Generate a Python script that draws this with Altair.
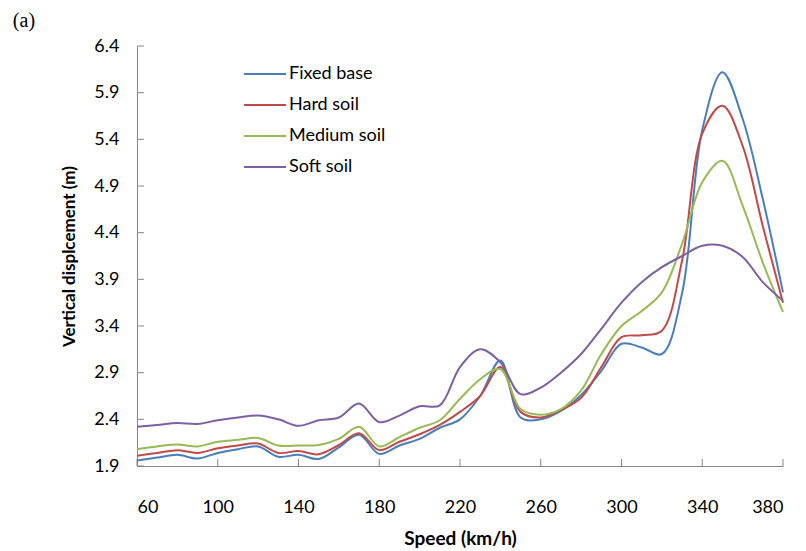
import altair as alt
import pandas as pd

speed = list(range(60, 390, 10))

fixed_base = [1.96, 1.99, 2.02, 1.98, 2.04, 2.08, 2.11, 2.00, 2.02, 1.975, 2.10, 2.235, 2.03, 2.12,
              2.19, 2.31, 2.40, 2.65, 3.03, 2.42, 2.40, 2.49, 2.66, 2.92, 3.21, 3.17, 3.10, 3.75,
              5.50, 6.12, 5.62, 4.76, 3.76]
hard_soil = [2.01, 2.04, 2.07, 2.04, 2.09, 2.12, 2.14, 2.04, 2.06, 2.025, 2.125, 2.25, 2.07, 2.16,
             2.24, 2.34, 2.48, 2.65, 2.96, 2.48, 2.42, 2.50, 2.63, 2.96, 3.28, 3.30, 3.35, 4.10,
             5.46, 5.76, 5.33, 4.47, 3.65]
medium_soil = [2.08, 2.11, 2.13, 2.11, 2.16, 2.18, 2.20, 2.12, 2.12, 2.125, 2.19, 2.32, 2.11, 2.21,
               2.31, 2.39, 2.62, 2.83, 2.94, 2.51, 2.45, 2.51, 2.71, 3.10, 3.40, 3.56, 3.76, 4.28,
               4.94, 5.17, 4.69, 4.08, 3.55]
soft_soil = [2.32, 2.34, 2.36, 2.35, 2.39, 2.42, 2.44, 2.40, 2.33, 2.39, 2.42, 2.57, 2.37, 2.44,
             2.54, 2.55, 2.96, 3.15, 3.01, 2.67, 2.74, 2.90, 3.10, 3.37, 3.65, 3.87, 4.03, 4.15,
             4.26, 4.26, 4.14, 3.87, 3.67]

series_names = ["Fixed base", "Hard soil", "Medium soil", "Soft soil"]
series_colors = ["#4A7EBB", "#BE4B48", "#98B954", "#7D60A0"]
x_ticks = [60, 100, 140, 180, 220, 260, 300, 340, 380]
y_ticks = [1.9, 2.4, 2.9, 3.4, 3.9, 4.4, 4.9, 5.4, 5.9, 6.4]

rows = []
for name, vals in zip(series_names, [fixed_base, hard_soil, medium_soil, soft_soil]):
    for s, v in zip(speed, vals):
        rows.append({"speed": s, "disp": v, "series": name})
df = pd.DataFrame(rows)

FONT = "Lato"
W, H = 646, 420

xscale = alt.Scale(domain=[60, 380], nice=False)
yscale = alt.Scale(domain=[1.9, 6.4], nice=False, zero=False)

lines = alt.Chart(df).mark_line(strokeWidth=2, interpolate="catmull-rom").encode(
    x=alt.X("speed:Q", scale=xscale,
            axis=alt.Axis(values=x_ticks, title="Speed (km/h)", grid=False, ticks=False, tickSize=0,
                          labelPadding=32, titlePadding=13, domainColor="#868686",
                          labelFontSize=18, titleFontSize=19, labelFont=FONT, titleFont=FONT,
                          titleFontWeight="bold", labelColor="black", titleColor="black")),
    y=alt.Y("disp:Q", scale=yscale,
            axis=alt.Axis(values=y_ticks, format=".1f", title="Vertical displcement (m)", grid=False,
                          ticks=False, tickSize=0, labelPadding=18, titlePadding=15,
                          domainColor="#868686", labelFontSize=18, titleFontSize=17,
                          labelFont=FONT, titleFont=FONT, titleFontWeight="bold",
                          labelColor="black", titleColor="black")),
    color=alt.Color("series:N", scale=alt.Scale(domain=series_names, range=series_colors),
                    legend=alt.Legend(title=None, orient="none", legendX=106, legendY=6,
                                      symbolType="stroke", symbolSize=1764, symbolStrokeWidth=2,
                                      labelFontSize=18, labelFont=FONT, labelColor="black",
                                      rowPadding=-1, labelOffset=2)),
)

xtick_df = pd.DataFrame({"t": x_ticks})
ytick_df = pd.DataFrame({"t": y_ticks})

xticks = alt.Chart(xtick_df).mark_rule(color="#868686", strokeWidth=1).encode(
    x=alt.X("t:Q", scale=xscale), y=alt.value(H), y2=alt.value(H - 7))
yticks = alt.Chart(ytick_df).mark_rule(color="#868686", strokeWidth=1).encode(
    y=alt.Y("t:Q", scale=yscale), x=alt.value(0), x2=alt.value(7))

chart = alt.layer(lines, xticks, yticks).properties(
    width=W, height=H,
    padding={"left": 4, "top": 3, "right": 0, "bottom": 0},
    title=alt.TitleParams("(a)", anchor="start", frame="bounds", dx=-48, offset=6,
                          font="Liberation Serif", fontSize=20, fontWeight="normal", color="black"),
).configure_view(stroke=None).configure_axis(domainWidth=1)

chart.save("out.html", embed_options={"renderer": "svg", "actions": False})
